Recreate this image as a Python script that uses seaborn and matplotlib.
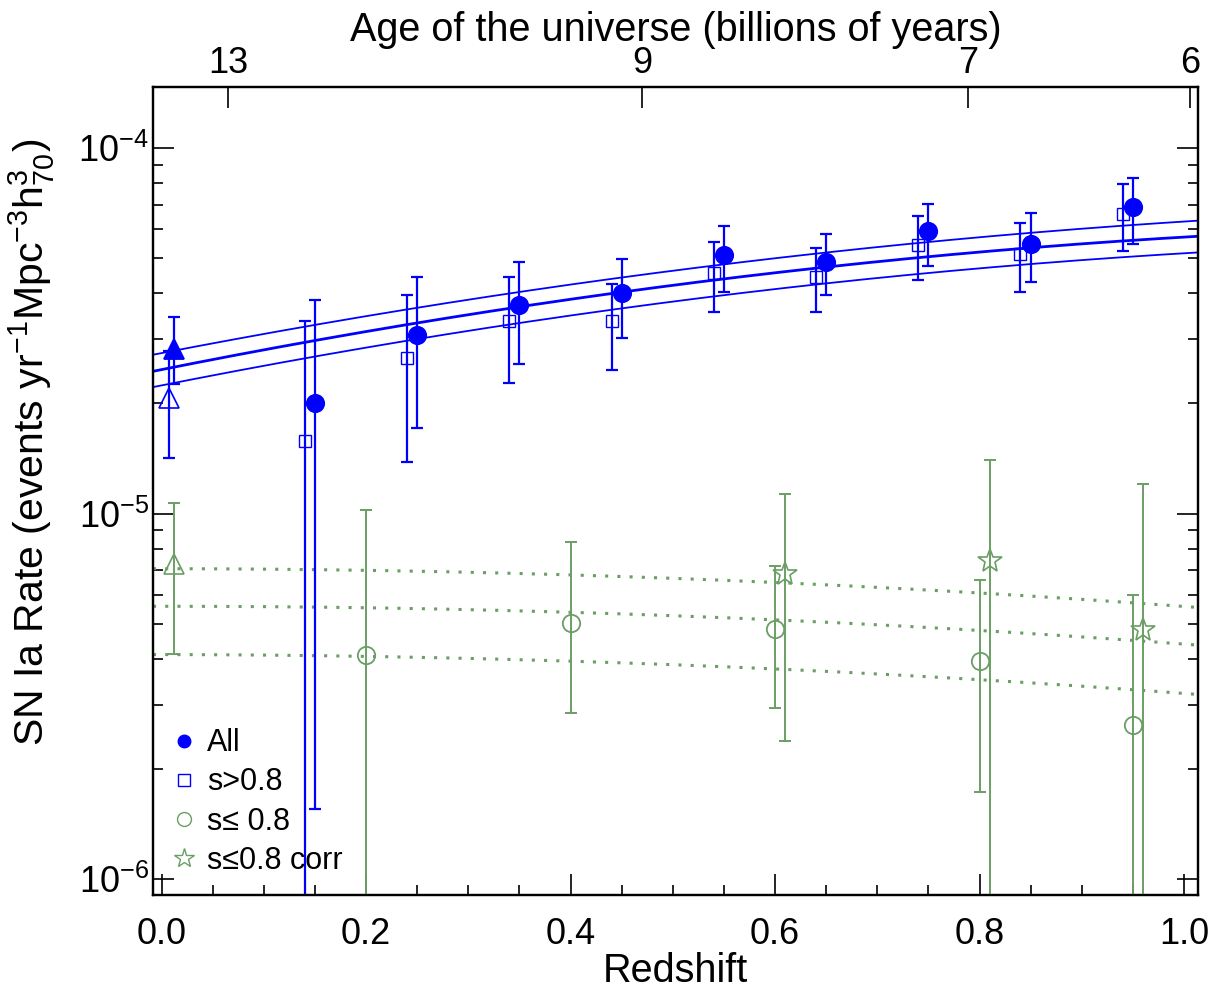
import numpy as np
import matplotlib
matplotlib.use("Agg")
import matplotlib.pyplot as plt
import seaborn as sns
from matplotlib.lines import Line2D
from matplotlib.ticker import MultipleLocator, LogLocator, NullFormatter, NullLocator

# ---------------- data ----------------
# "All" (filled circles), rates in events/yr/Mpc^3/h70^3
all_z = [0.15, 0.25, 0.35, 0.45, 0.55, 0.65, 0.75, 0.85, 0.95]
all_rate = [2.00e-5, 3.08e-5, 3.73e-5, 4.01e-5, 5.09e-5, 4.89e-5, 5.92e-5, 5.48e-5, 6.89e-5]
all_hi = [3.83e-5, 4.43e-5, 4.87e-5, 4.97e-5, 6.12e-5, 5.82e-5, 7.03e-5, 6.65e-5, 8.29e-5]
all_lo = [1.55e-6, 1.71e-5, 2.56e-5, 3.03e-5, 4.05e-5, 3.95e-5, 4.77e-5, 4.31e-5, 5.46e-5]

# s>0.8 (open squares); lower bound 0 = off the bottom of the plot
sq_z = [0.14, 0.24, 0.34, 0.44, 0.54, 0.64, 0.74, 0.84, 0.94]
sq_rate = [1.58e-5, 2.67e-5, 3.36e-5, 3.36e-5, 4.54e-5, 4.45e-5, 5.43e-5, 5.13e-5, 6.62e-5]
sq_hi = [3.36e-5, 3.95e-5, 4.43e-5, 4.25e-5, 5.52e-5, 5.32e-5, 6.51e-5, 6.22e-5, 7.98e-5]
sq_lo = [0.0, 1.38e-5, 2.28e-5, 2.47e-5, 3.55e-5, 3.55e-5, 4.35e-5, 4.05e-5, 5.23e-5]

# s<=0.8 (open circles)
lo_z = [0.20, 0.40, 0.60, 0.80, 0.95]
lo_rate = [4.11e-6, 5.01e-6, 4.83e-6, 3.94e-6, 2.64e-6]
lo_hi = [1.022e-5, 8.36e-6, 7.18e-6, 6.57e-6, 5.97e-6]
lo_lo = [0.0, 2.85e-6, 2.93e-6, 1.73e-6, 0.0]

# s<=0.8 corrected (open stars)
corr_z = [0.61, 0.81, 0.96]
corr_rate = [6.84e-6, 7.41e-6, 4.80e-6]
corr_hi = [1.131e-5, 1.40e-5, 1.205e-5]
corr_lo = [2.38e-6, 0.0, 0.0]

# local (z~0) points, triangles
local_all = dict(z=[0.012], rate=[2.82e-5], hi=[3.44e-5], lo=[2.26e-5])
local_hi_s = dict(z=[0.007], rate=[2.07e-5], hi=[2.79e-5], lo=[1.42e-5])
local_lo_s = dict(z=[0.012], rate=[7.27e-6], hi=[1.07e-5], lo=[4.13e-6])

# fitted curves
blue_fit_z = [0.0, 0.1, 0.31, 0.5, 0.7, 0.9, 1.01]
blue_fit_mid = [2.45e-5, 2.83e-5, 3.57e-5, 4.21e-5, 4.83e-5, 5.45e-5, 5.77e-5]
blue_fit_up = [2.74e-5, 3.10e-5, 3.91e-5, 4.63e-5, 5.31e-5, 6.00e-5, 6.35e-5]
blue_fit_dn = [2.21e-5, 2.57e-5, 3.23e-5, 3.79e-5, 4.36e-5, 4.91e-5, 5.22e-5]

green_fit_z = [0.0, 0.36, 0.53, 0.85, 1.01]
green_fit_up = [7.06e-6, 6.85e-6, 6.60e-6, 5.93e-6, 5.55e-6]
green_fit_mid = [5.57e-6, 5.42e-6, 5.21e-6, 4.68e-6, 4.38e-6]
green_fit_dn = [4.11e-6, 3.98e-6, 3.83e-6, 3.43e-6, 3.21e-6]

# top axis: age of universe (flat LCDM)
age_ticks = [13, 9, 7, 6]
H0 = 70.0
OMEGA_M = 0.27

legend_labels = ["All", "s>0.8", "s\u2264 0.8", "s\u22640.8 corr"]

# ---------------- style ----------------
sns.set_style("ticks")
plt.rcParams['font.family'] = ['Liberation Sans', 'DejaVu Sans']
plt.rcParams['mathtext.fontset'] = 'custom'
plt.rcParams['mathtext.rm'] = 'Liberation Sans'
plt.rcParams['mathtext.it'] = 'Liberation Sans:italic'
plt.rcParams['mathtext.bf'] = 'Liberation Sans:bold'
plt.rcParams['text.color'] = 'black'
plt.rcParams['axes.labelcolor'] = 'black'

BLUE = '#0000ff'
GREEN = '#6a9e64'
FS_TICK = 26
FS_LAB = 28.5

fig = plt.figure(figsize=(12.2, 9.91), dpi=100)
ax = fig.add_axes([153 / 1220, 1 - 895 / 991, (1198 - 153) / 1220, (895 - 87) / 991])
ax.set_yscale('log')
XMIN, XMAX = -0.0085, 1.0137
ax.set_xlim(XMIN, XMAX)
ax.set_ylim(9.04e-7, 1.469e-4)

zgrid = np.linspace(XMIN, XMAX, 200)


def smooth(zs, vals):
    c = np.polyfit(zs, np.log10(vals), 2)
    return 10 ** np.polyval(c, zgrid)


for vals, lw in [(blue_fit_up, 1.3), (blue_fit_mid, 2.0), (blue_fit_dn, 1.3)]:
    sns.lineplot(x=zgrid, y=smooth(blue_fit_z, vals), ax=ax, color=BLUE, lw=lw)
for vals in [green_fit_up, green_fit_mid, green_fit_dn]:
    sns.lineplot(x=zgrid, y=smooth(green_fit_z, vals), ax=ax, color=GREEN, lw=2.2,
                 linestyle=(0, (1, 3)))


def ebar(z, rate, hi, lo, color, marker, ms, filled, mew=1.3, elw=1.6):
    rate = np.asarray(rate)
    hi = np.asarray(hi)
    lo = np.asarray(lo, dtype=float)
    lo = np.where(lo > 0, lo, 1e-9)
    ax.errorbar(z, rate, yerr=[rate - lo, hi - rate], fmt='none', ecolor=color,
                elinewidth=elw, capsize=4.6, capthick=elw, zorder=3)
    ax.plot(z, rate, ls='none', marker=marker, ms=ms, mec=color, mew=mew,
            mfc=color if filled else 'none', zorder=4)


ebar(sq_z, sq_rate, sq_hi, sq_lo, BLUE, 's', 8.5, False, mew=1.0)
ebar(all_z, all_rate, all_hi, all_lo, BLUE, 'o', 12.5, True)
ebar(local_hi_s['z'], local_hi_s['rate'], local_hi_s['hi'], local_hi_s['lo'], BLUE, '^', 15, False, mew=1.2)
ebar(local_all['z'], local_all['rate'], local_all['hi'], local_all['lo'], BLUE, '^', 15, True)
ebar(lo_z, lo_rate, lo_hi, lo_lo, GREEN, 'o', 12.5, False, mew=1.3, elw=1.4)
ebar(corr_z, corr_rate, corr_hi, corr_lo, GREEN, '*', 18, False, mew=1.2, elw=1.4)
ebar(local_lo_s['z'], local_lo_s['rate'], local_lo_s['hi'], local_lo_s['lo'], GREEN, '^', 15, False, mew=1.2, elw=1.4)

# ticks
ax.xaxis.set_major_locator(MultipleLocator(0.2))
ax.xaxis.set_minor_locator(MultipleLocator(0.05))
ax.xaxis.set_major_formatter(matplotlib.ticker.FormatStrFormatter('%.1f'))
ax.yaxis.set_major_locator(LogLocator(base=10))
ax.yaxis.set_minor_locator(LogLocator(base=10, subs=np.arange(2, 10)))
ax.yaxis.set_minor_formatter(NullFormatter())
ax.tick_params(which='both', direction='in', left=True, right=True, top=False, bottom=True,
               labelsize=FS_TICK, colors='black', width=1.2)
ax.tick_params(which='major', length=15)
ax.tick_params(which='minor', length=7.5)
ax.tick_params(axis='x', which='major', pad=16)
ax.tick_params(axis='y', which='major', pad=3)
for s in ax.spines.values():
    s.set_linewidth(1.6)
    s.set_color('black')

ax.set_xlabel('Redshift', fontsize=FS_LAB, labelpad=0)
ax.set_ylabel('SN Ia Rate (events yr$^{-1}$Mpc$^{-3}$h$_{70}^{3}$)', fontsize=29.5, labelpad=10)
ax.yaxis.set_label_coords(-0.092, 0.56)

# top axis
hubble_time = 977.8 / H0
OL = 1.0 - OMEGA_M


def age_to_z(t):
    t = np.asarray(t, dtype=float)
    arg = np.sinh(t * 1.5 * np.sqrt(OL) / hubble_time) / np.sqrt(OL / OMEGA_M)
    return arg ** (-2.0 / 3.0) - 1.0


ax2 = ax.twiny()
ax2.set_xlim(ax.get_xlim())
ax2.set_xticks(age_to_z(age_ticks))
ax2.set_xticklabels([str(a) for a in age_ticks])
ax2.xaxis.set_minor_locator(NullLocator())
ax2.tick_params(axis='x', direction='in', length=15, width=1.2, labelsize=FS_TICK, pad=4,
                colors='black')
ax2.set_xlabel('Age of the universe (billions of years)', fontsize=FS_LAB, labelpad=4)
for s in ax2.spines.values():
    s.set_linewidth(1.6)
    s.set_color('black')

# legend
handles = [
    Line2D([], [], ls='none', marker='o', ms=9, mfc=BLUE, mec=BLUE),
    Line2D([], [], ls='none', marker='s', ms=8, mfc='none', mec=BLUE, mew=1.0),
    Line2D([], [], ls='none', marker='o', ms=10, mfc='none', mec=GREEN, mew=1.0),
    Line2D([], [], ls='none', marker='*', ms=15, mfc='none', mec=GREEN, mew=1.0),
]
ax.legend(handles, legend_labels, loc='lower left', bbox_to_anchor=(0.0, 0.0), frameon=False,
          fontsize=22, handlelength=0.8, handletextpad=0.35, labelspacing=0.3,
          borderpad=0.63, borderaxespad=0.0)

fig.savefig('out.png', dpi=100)
